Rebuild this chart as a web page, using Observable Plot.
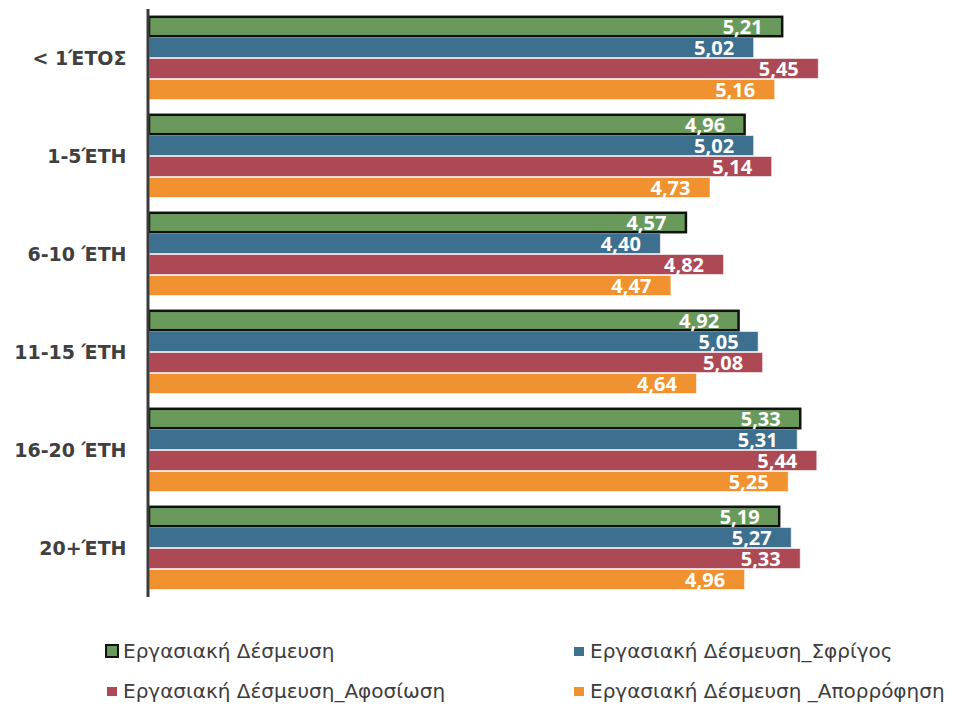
<!DOCTYPE html>
<html>
<head>
<meta charset="utf-8">
<script src="https://cdn.jsdelivr.net/npm/d3@7"></script>
<script src="https://cdn.jsdelivr.net/npm/@observablehq/plot@0.6"></script>
<style>
  body { margin: 0; background: #fff; }
  #chart { width: 958px; }
  #legend {
    display: grid;
    grid-template-columns: 467px 386px;
    grid-auto-rows: 40px;
    padding-left: 105px;
    margin-top: 16px;
    font-family: "DejaVu Sans", sans-serif;
    font-size: 20px;
    color: #3d3d3d;
  }
  .item { display: flex; align-items: center; white-space: nowrap; }
  .sw { width: 14px; height: 14px; display: flex; align-items: center; justify-content: center; margin-right: 4px; }
  .sw span { display: block; width: 10px; height: 9px; }
  .sw span.boxed { width: 10px; height: 10px; border: 2px solid #111; }
</style>
</head>
<body>
<div id="chart"></div>
<script>
// Tenure groups (rows) and the four engagement measures (bars per row)
const groups = ["< 1ΈΤΟΣ", "1-5ΈΤΗ", "6-10 ΈΤΗ", "11-15 ΈΤΗ", "16-20 ΈΤΗ", "20+ΈΤΗ"];
const series = [
  "Εργασιακή Δέσμευση",
  "Εργασιακή Δέσμευση_Σφρίγος",
  "Εργασιακή Δέσμευση_Αφοσίωση",
  "Εργασιακή Δέσμευση _Απορρόφηση"
];
const colors = ["#6a9a5b", "#3d6f8f", "#ad4955", "#f0922f"];

// Mean scores per tenure group
const engagement = [5.21, 4.96, 4.57, 4.92, 5.33, 5.19];
const vigor      = [5.02, 5.02, 4.40, 5.05, 5.31, 5.27];
const dedication = [5.45, 5.14, 4.82, 5.08, 5.44, 5.33];
const absorption = [5.16, 4.73, 4.47, 4.64, 5.25, 4.96];

// Value axis runs from 1 to 6
const xDomain = [1, 6];
const baseline = xDomain[0];

const valuesBySeries = [engagement, vigor, dedication, absorption];
const rows = [];
groups.forEach((g, i) => {
  series.forEach((s, j) => {
    rows.push({group: g, series: s, value: valuesBySeries[j][i]});
  });
});

const fmt = v => d3.format(".2f")(v).replace(".", ",");

const chart = Plot.plot({
  width: 958,
  height: 615,
  marginTop: 13,
  marginBottom: 22,
  marginLeft: 149,
  marginRight: 57,
  style: {
    fontFamily: "'DejaVu Sans', sans-serif",
    fontSize: "19px",
    fontWeight: "bold",
    color: "#404040",
    background: "white",
    overflow: "visible"
  },
  facet: {data: rows, y: "group"},
  fy: {domain: groups, paddingInner: 0.14, paddingOuter: 0, label: null, tickSize: 0, tickPadding: 23, axis: "left"},
  y: {domain: series, padding: 0, axis: null},
  x: {domain: xDomain, axis: null},
  color: {domain: series, range: colors},
  marks: [
    // bars for the three sub-dimensions, thin light outline
    Plot.barX(rows, {
      filter: d => d.series !== series[0],
      y: "series",
      x1: () => baseline,
      x2: "value",
      fill: "series",
      stroke: "#ffffff",
      strokeOpacity: 0.55,
      strokeWidth: 1,
      insetTop: 0.5,
      insetBottom: 0.5
    }),
    // overall engagement bar with a dark outline
    Plot.barX(rows, {
      filter: d => d.series === series[0],
      y: "series",
      x1: () => baseline,
      x2: "value",
      fill: "series",
      stroke: "#111111",
      strokeWidth: 2.5,
      insetTop: 0.8,
      insetBottom: 0.8
    }),
    // value labels inside the end of each bar
    Plot.text(rows, {
      y: "series",
      x: "value",
      text: d => fmt(d.value),
      textAnchor: "end",
      dx: -20,
      dy: 1,
      fill: "white",
      fontSize: 20,
      fontWeight: "bold",
      fontFamily: "'Open Sans', sans-serif"
    }),
    // vertical category axis line
    Plot.ruleX([baseline], {
      stroke: "#3a3a3a",
      strokeWidth: 3,
      dx: -1.5,
      insetTop: -7,
      insetBottom: -7
    })
  ]
});
document.getElementById("chart").appendChild(chart);

// Legend: two columns, two rows
const legend = document.createElement("div");
legend.id = "legend";
series.forEach((s, j) => {
  const item = document.createElement("div");
  item.className = "item";
  const sw = document.createElement("div");
  sw.className = "sw";
  const box = document.createElement("span");
  box.style.background = colors[j];
  if (j === 0) box.className = "boxed";
  sw.appendChild(box);
  const label = document.createElement("span");
  label.textContent = s;
  item.appendChild(sw);
  item.appendChild(label);
  legend.appendChild(item);
});
document.body.appendChild(legend);
</script>
</body>
</html>
